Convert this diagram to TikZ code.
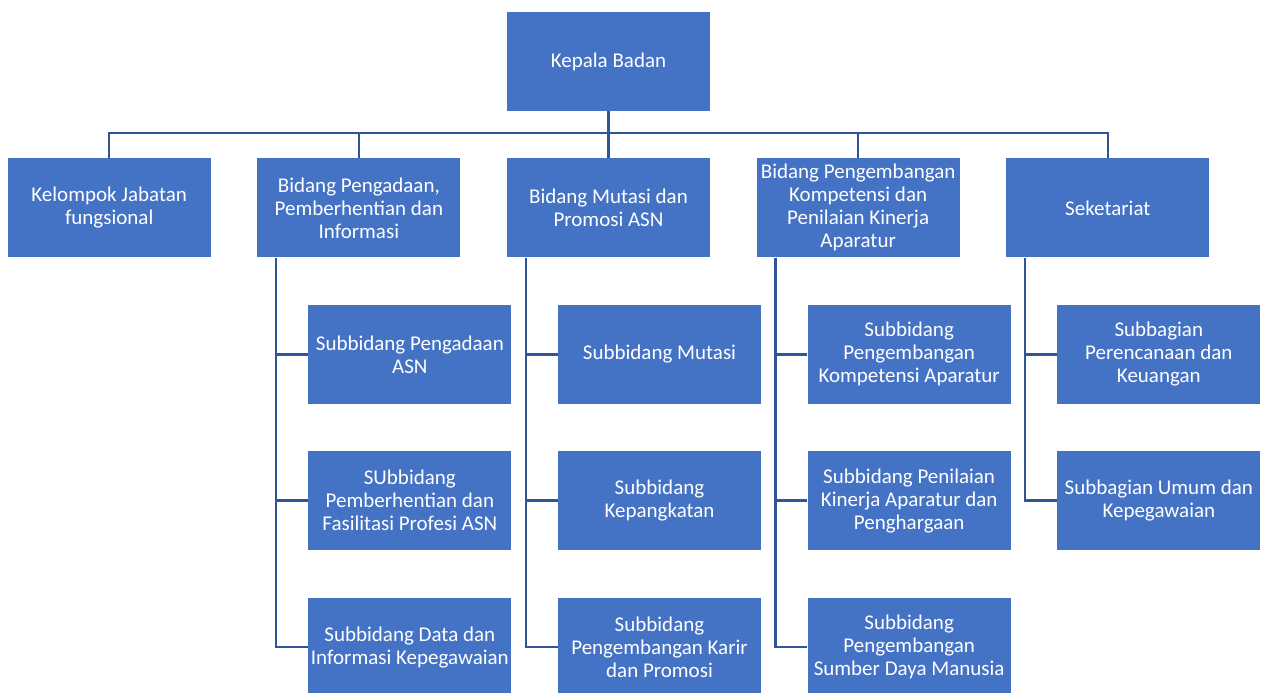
\documentclass[tikz,border=0pt]{standalone}
\usepackage{fontspec}
\setmainfont{Carlito}
\usepackage{xcolor}
\usetikzlibrary{positioning, calc}
\definecolor{boxblue}{RGB}{68,114,196}
\definecolor{lineblue}{RGB}{47,85,151}

\begin{document}
\begin{tikzpicture}[
    x=1pt, y=1pt,
    node distance=47pt and 46.25pt,
    unit/.style={fill=boxblue, minimum width=203pt, minimum height=99pt, inner sep=0pt,
      font=\fontsize{21}{23}\selectfont, text=white, align=center},
    link/.style={draw=lineblue, line width=2.5pt},
  ]
  \useasboundingbox (0,0) rectangle (1263,693);
  % head
  \node[unit] (kepala) at (608.5,631.5) {Kepala Badan};
  % second row
  \node[unit, below=47pt of kepala] (mutasi) {Bidang Mutasi dan\\Promosi ASN};
  \node[unit, left=of mutasi] (pengadaan) {Bidang Pengadaan,\\Pemberhentian dan\\Informasi};
  \node[unit, left=of pengadaan] (kelompok) {Kelompok Jabatan\\fungsional};
  \node[unit, right=of mutasi] (kompetensi) {Bidang Pengembangan\\Kompetensi dan\\Penilaian Kinerja\\Aparatur};
  \node[unit, right=of kompetensi] (sekretariat) {Seketariat};
  % sub units
  \node[unit, below=of pengadaan, xshift=51pt] (pgA) {Subbidang Pengadaan\\ASN};
  \node[unit, below=of pgA] (pgB) {SUbbidang\\Pemberhentian dan\\Fasilitasi Profesi ASN};
  \node[unit, below=of pgB] (pgC) {Subbidang Data dan\\Informasi Kepegawaian};
  \node[unit, below=of mutasi, xshift=51pt] (mtA) {Subbidang Mutasi};
  \node[unit, below=of mtA] (mtB) {Subbidang\\Kepangkatan};
  \node[unit, below=of mtB] (mtC) {Subbidang\\Pengembangan Karir\\dan Promosi};
  \node[unit, below=of kompetensi, xshift=51pt] (kpA) {Subbidang\\Pengembangan\\Kompetensi Aparatur};
  \node[unit, below=of kpA] (kpB) {Subbidang Penilaian\\Kinerja Aparatur dan\\Penghargaan};
  \node[unit, below=of kpB] (kpC) {Subbidang\\Pengembangan\\Sumber Daya Manusia};
  \node[unit, below=of sekretariat, xshift=51pt] (skA) {Subbagian\\Perencanaan dan\\Keuangan};
  \node[unit, below=of skA] (skB) {Subbagian Umum dan\\Kepegawaian};
  % connectors
  \foreach \n in {kelompok, pengadaan, mutasi, kompetensi, sekretariat}
    \draw[link] (kepala.south) -- ++(0,-22) -| (\n.north);
  \foreach \n in {pgA, pgB, pgC}
    \draw[link] ([xshift=19pt]pengadaan.south west) |- (\n.west);
  \foreach \n in {mtA, mtB, mtC}
    \draw[link] ([xshift=19pt]mutasi.south west) |- (\n.west);
  \foreach \n in {kpA, kpB, kpC}
    \draw[link] ([xshift=19pt]kompetensi.south west) |- (\n.west);
  \foreach \n in {skA, skB}
    \draw[link] ([xshift=19pt]sekretariat.south west) |- (\n.west);
\end{tikzpicture}
\end{document}
